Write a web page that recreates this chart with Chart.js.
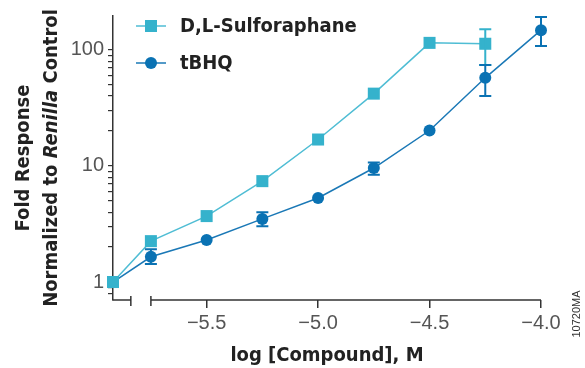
<!DOCTYPE html>
<html>
<head>
<meta charset="utf-8">
<script src="https://cdn.jsdelivr.net/npm/chart.js@4/dist/chart.umd.min.js"></script>
<style>
  html, body { margin: 0; padding: 0; background: #fff; }
  #wrap { width: 585px; height: 368px; position: relative; }
</style>
</head>
<body>
<div id="wrap"><canvas id="foldChart"></canvas></div>
<script>
// log [Compound], M  (first point is the untreated control, drawn left of the axis break)
const concentrations = [-5.92, -5.75, -5.5, -5.25, -5.0, -4.75, -4.5, -4.25, -4.0];
const sulforaphane = [1, 2.25, 3.7, 7.4, 16.9, 42, 115, 113, null];
const tbhq = [1, 1.65, 2.3, 3.5, 5.3, 9.6, 20.2, 57.5, 148];

// error bars (low / high), null where none is visible
const sulforaphaneLow = [null, null, null, null, null, null, null, 74, null];
const sulforaphaneHigh = [null, null, null, null, null, null, null, 151, null];
const tbhqLow = [null, 1.43, null, 3.02, null, 8.4, null, 40, 108];
const tbhqHigh = [null, 1.92, null, 3.99, null, 10.7, null, 74, 192];

const xTicks = [-5.5, -5.0, -4.5, -4.0];
const xBreak = [-5.84, -5.75];
const yMajor = [1, 10, 100];
const yTicks = [0.8, 0.9, 1, 2, 3, 4, 5, 6, 7, 8, 9, 10, 20, 30, 40, 50, 60, 70, 80, 90, 100];

const names = ['D,L-Sulforaphane', 'tBHQ'];
const colors = ['#35b2cc', '#0a72b3'];
const lineColors = ['#4fbdd4', '#1a78b6'];

const boldFont = '"Liberation Sans Narrow", "DejaVu Sans Condensed", sans-serif';
const lightFont = '"Liberation Sans", Arial, sans-serif';

const toPoints = (ys) => concentrations.map((x, i) => ({x: x, y: ys[i]})).filter(p => p.y !== null);

const errorBars = {
  id: 'errorBars',
  afterDatasetsDraw(chart) {
    const {ctx, scales: {x, y}} = chart;
    const sets = [[sulforaphaneLow, sulforaphaneHigh], [tbhqLow, tbhqHigh]];
    ctx.save();
    ctx.lineWidth = 2;
    sets.forEach(([lo, hi], d) => {
      ctx.strokeStyle = colors[d];
      concentrations.forEach((c, i) => {
        if (lo[i] === null) return;
        const px = x.getPixelForValue(c);
        const top = y.getPixelForValue(hi[i]);
        const bot = y.getPixelForValue(lo[i]);
        ctx.beginPath();
        ctx.moveTo(px, top); ctx.lineTo(px, bot);
        ctx.moveTo(px - 6, top); ctx.lineTo(px + 6, top);
        ctx.moveTo(px - 6, bot); ctx.lineTo(px + 6, bot);
        ctx.stroke();
      });
    });
    ctx.restore();
  }
};

const decorations = {
  id: 'decorations',
  afterDraw(chart) {
    const {ctx, chartArea, scales: {x, y}} = chart;
    ctx.save();

    // broken x axis
    const yb = chartArea.bottom;
    const b1 = x.getPixelForValue(xBreak[0]);
    const b2 = x.getPixelForValue(xBreak[1]);
    const right = x.getPixelForValue(xTicks[xTicks.length - 1]);
    ctx.strokeStyle = '#333';
    ctx.lineWidth = 1.5;
    ctx.beginPath();
    ctx.moveTo(chartArea.left - 0.75, yb); ctx.lineTo(b1, yb);
    ctx.moveTo(b1, yb - 4); ctx.lineTo(b1, yb + 6);
    ctx.moveTo(b2, yb - 4); ctx.lineTo(b2, yb + 6);
    ctx.moveTo(b2, yb); ctx.lineTo(right, yb);
    ctx.stroke();

    // legend
    const lx = chartArea.left + 23;
    const rows = [chartArea.top + 10, chartArea.top + 47];
    names.forEach((name, d) => {
      const ly = rows[d];
      ctx.strokeStyle = lineColors[d];
      ctx.lineWidth = 1.5;
      ctx.beginPath();
      ctx.moveTo(lx, ly); ctx.lineTo(lx + 30, ly);
      ctx.stroke();
      ctx.fillStyle = colors[d];
      if (d === 0) {
        ctx.fillRect(lx + 9, ly - 6, 12, 12);
      } else {
        ctx.beginPath();
        ctx.arc(lx + 15, ly, 6, 0, Math.PI * 2);
        ctx.fill();
      }
      ctx.fillStyle = '#222';
      ctx.font = 'bold 20px ' + boldFont;
      ctx.textAlign = 'left';
      ctx.textBaseline = 'middle';
      ctx.fillText(name, lx + 44, ly + 1);
    });

    // y axis title, two lines with italic Renilla
    const cy = (chartArea.top + chartArea.bottom) / 2;
    ctx.save();
    ctx.translate(24, cy);
    ctx.rotate(-Math.PI / 2);
    ctx.fillStyle = '#222';
    ctx.textBaseline = 'middle';
    ctx.textAlign = 'center';
    ctx.font = 'bold 20px ' + boldFont;
    ctx.fillText('Fold Response', 0, 0);
    const parts = [['Normalized to ', 'bold'], ['Renilla', 'italic bold'], [' Control', 'bold']];
    let total = 0;
    parts.forEach(p => { ctx.font = p[1] + ' 20px ' + boldFont; total += ctx.measureText(p[0]).width; });
    let px = -total / 2;
    ctx.textAlign = 'left';
    parts.forEach(p => {
      ctx.font = p[1] + ' 20px ' + boldFont;
      ctx.fillText(p[0], px, 28);
      px += ctx.measureText(p[0]).width;
    });
    ctx.restore();

    // figure code
    ctx.save();
    ctx.translate(577, 314);
    ctx.rotate(-Math.PI / 2);
    ctx.fillStyle = '#333';
    ctx.font = '11px ' + lightFont;
    ctx.textAlign = 'center';
    ctx.textBaseline = 'middle';
    ctx.fillText('10720MA', 0, 0);
    ctx.restore();

    ctx.restore();
  }
};

new Chart(document.getElementById('foldChart'), {
  type: 'line',
  data: {
    datasets: [
      {
        label: names[0],
        data: toPoints(sulforaphane),
        borderColor: lineColors[0],
        backgroundColor: colors[0],
        borderWidth: 1.5,
        pointStyle: 'rect',
        pointRadius: 8.5,
        pointBorderWidth: 0,
        clip: false
      },
      {
        label: names[1],
        data: toPoints(tbhq),
        borderColor: lineColors[1],
        backgroundColor: colors[1],
        borderWidth: 1.5,
        pointStyle: 'circle',
        pointRadius: 6,
        pointBorderWidth: 0,
        clip: false
      }
    ]
  },
  options: {
    responsive: true,
    maintainAspectRatio: false,
    animation: false,
    layout: {padding: {left: 0, top: 15, right: 44, bottom: 0}},
    plugins: {legend: {display: false}, tooltip: {enabled: false}},
    scales: {
      x: {
        type: 'linear',
        min: concentrations[0],
        max: xTicks[xTicks.length - 1],
        afterBuildTicks: s => { s.ticks = xTicks.map(v => ({value: v})); },
        afterFit: s => { s.height = 68; },
        border: {display: false},
        grid: {drawOnChartArea: false, tickLength: 8, tickColor: '#333', lineWidth: 1.5},
        ticks: {
          color: '#555',
          font: {family: lightFont, size: 20},
          padding: 3,
          maxRotation: 0,
          callback: v => '\u2212' + Math.abs(v).toFixed(1)
        },
        title: {display: true, text: 'log [Compound], M', color: '#222',
                font: {family: boldFont, size: 20, weight: 'bold'}, padding: {top: 4, bottom: 0}}
      },
      y: {
        type: 'logarithmic',
        min: 0.73,
        max: 196,
        afterBuildTicks: s => { s.ticks = yTicks.map(v => ({value: v})); },
        afterFit: s => { s.width = 113; },
        border: {display: true, color: '#333', width: 1.5},
        grid: {drawOnChartArea: false, tickLength: 5, tickColor: '#333', lineWidth: 1.2},
        ticks: {
          color: '#555',
          font: {family: lightFont, size: 20},
          padding: 4,
          autoSkip: false,
          callback: v => yMajor.includes(v) ? String(v) : ''
        }
      }
    }
  },
  plugins: [errorBars, decorations]
});
</script>
</body>
</html>
